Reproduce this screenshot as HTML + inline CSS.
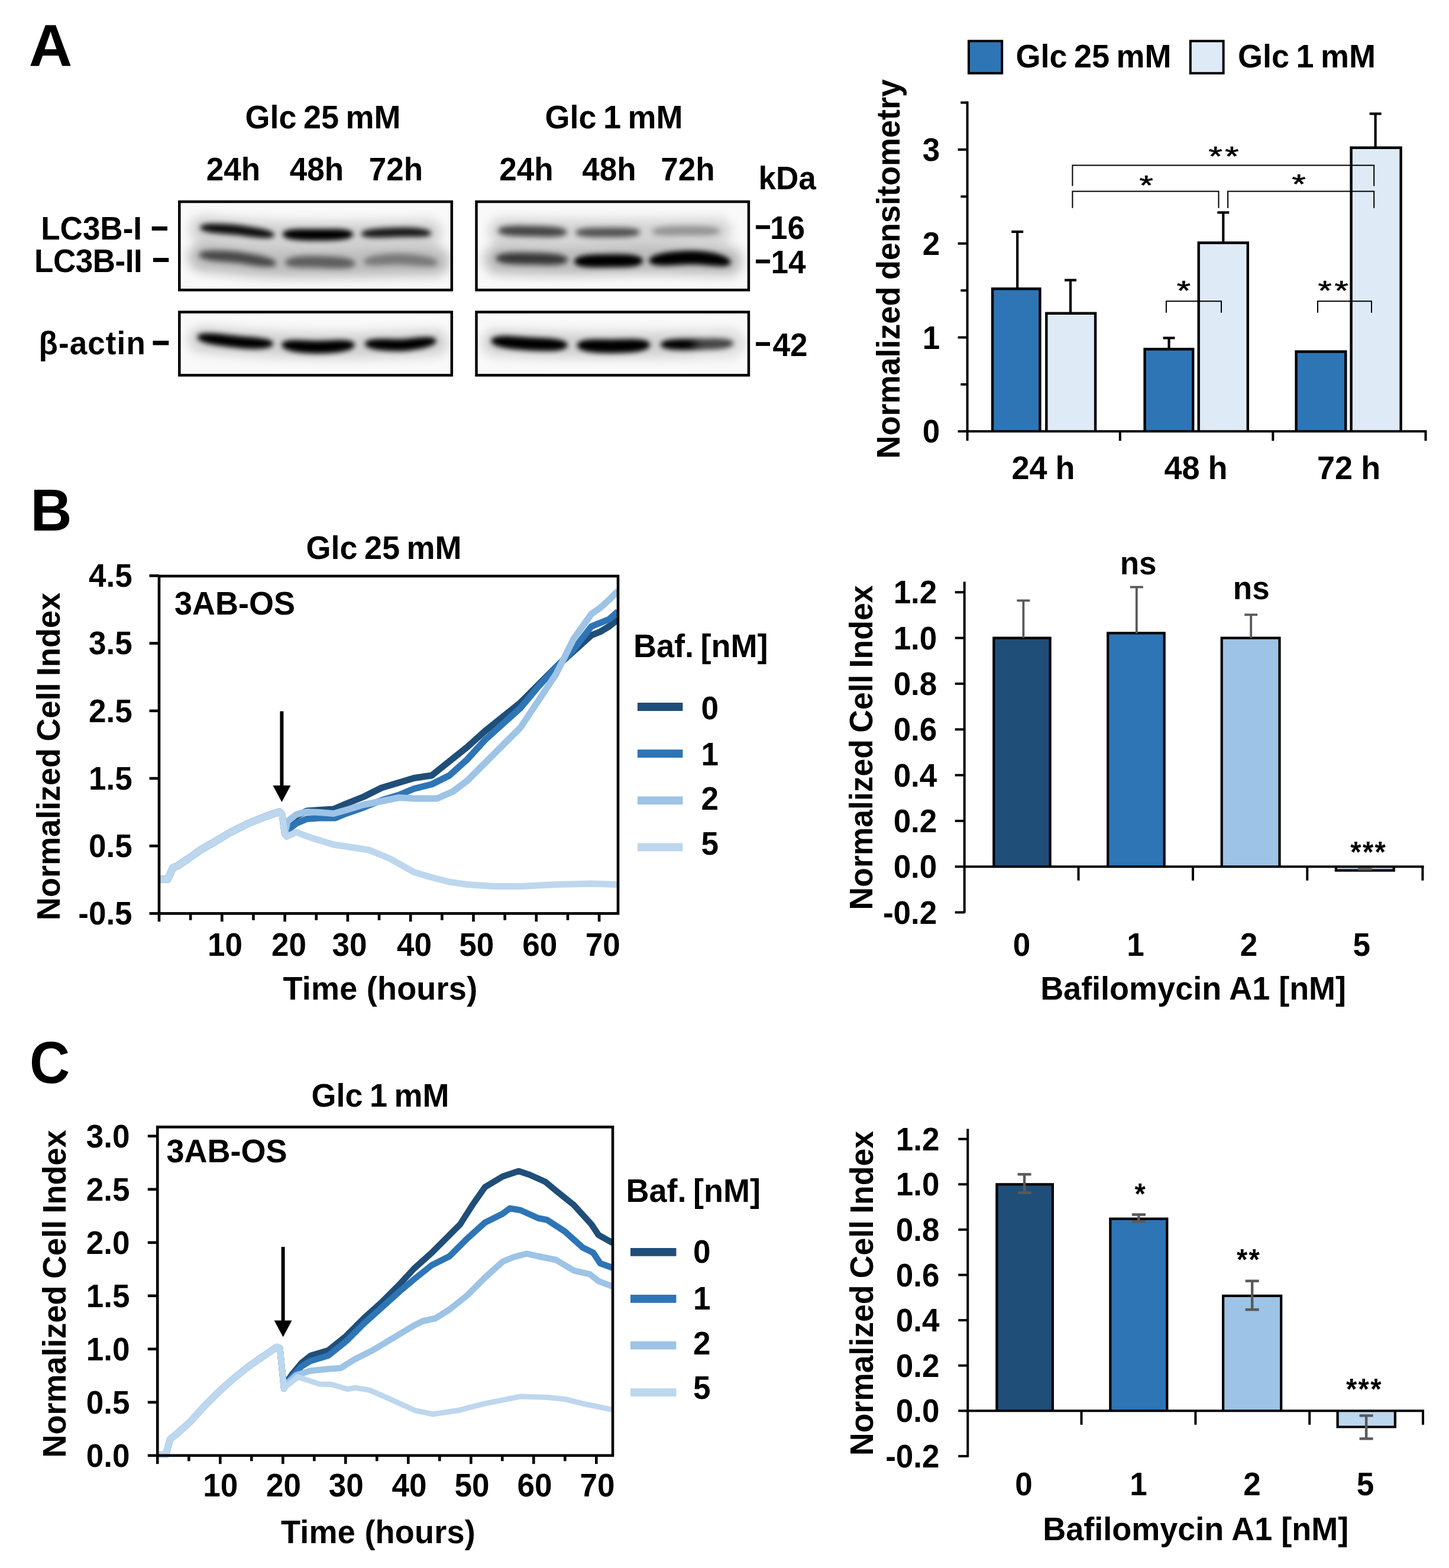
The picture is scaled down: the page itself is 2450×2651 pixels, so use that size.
<!DOCTYPE html>
<html lang="en"><head><meta charset="utf-8"><title>Figure</title>
<style>html,body{margin:0;padding:0;background:#fff}svg{display:block}text{font-family:"Liberation Sans",sans-serif;font-weight:bold}</style>
</head><body>
<svg width="2450" height="2651" viewBox="0 0 2450 2651">
<defs>
<filter id="b3" filterUnits="userSpaceOnUse" x="280" y="320" width="1010" height="340"><feGaussianBlur stdDeviation="4.2"/></filter>
<filter id="b4" filterUnits="userSpaceOnUse" x="280" y="320" width="1010" height="340"><feGaussianBlur stdDeviation="3.6"/></filter>
<filter id="b5" filterUnits="userSpaceOnUse" x="280" y="320" width="1010" height="340"><feGaussianBlur stdDeviation="5"/></filter>
<filter id="bs" filterUnits="userSpaceOnUse" x="280" y="320" width="1010" height="340"><feGaussianBlur stdDeviation="3.2"/><feComponentTransfer><feFuncA type="linear" slope="2"/></feComponentTransfer></filter>
<filter id="bs4" filterUnits="userSpaceOnUse" x="280" y="320" width="1010" height="340"><feGaussianBlur stdDeviation="4.2"/><feComponentTransfer><feFuncA type="linear" slope="2"/></feComponentTransfer></filter>
<filter id="b8" filterUnits="userSpaceOnUse" x="280" y="320" width="1010" height="340"><feGaussianBlur stdDeviation="9"/></filter>
<clipPath id="cA1"><rect x="303" y="340.7" width="461" height="149"/></clipPath>
<clipPath id="cA2"><rect x="303" y="527.4" width="461" height="107"/></clipPath>
<clipPath id="cA3"><rect x="805.3" y="340.7" width="461" height="149"/></clipPath>
<clipPath id="cA4"><rect x="805.3" y="527.4" width="461" height="107"/></clipPath>
<clipPath id="cB"><rect x="266" y="960" width="781" height="590"/></clipPath>
<clipPath id="cC"><rect x="264" y="1890" width="774" height="575"/></clipPath>
</defs>
<rect width="2450" height="2651" fill="#fff"/>
<text transform="translate(48.80,111.90) scale(1.05,1.04)" font-size="97">A</text>
<text transform="translate(546.00,217.00) scale(1,1.04)" font-size="54" text-anchor="middle" word-spacing="-3.53">Glc 25 mM</text>
<text transform="translate(1038.00,217.00) scale(1,1.04)" font-size="54" text-anchor="middle" word-spacing="-3.53">Glc 1 mM</text>
<text transform="translate(394.50,305.20) scale(1,1.04)" font-size="53" text-anchor="middle">24h</text>
<text transform="translate(535.50,305.20) scale(1,1.04)" font-size="53" text-anchor="middle">48h</text>
<text transform="translate(669.50,305.20) scale(1,1.04)" font-size="53" text-anchor="middle">72h</text>
<text transform="translate(890.00,305.20) scale(1,1.04)" font-size="53" text-anchor="middle">24h</text>
<text transform="translate(1030.00,305.20) scale(1,1.04)" font-size="53" text-anchor="middle">48h</text>
<text transform="translate(1163.00,305.20) scale(1,1.04)" font-size="53" text-anchor="middle">72h</text>
<text transform="translate(240.00,405.30) scale(1,1.04)" font-size="53" text-anchor="end">LC3B-I</text>
<text transform="translate(240.30,459.80) scale(1,1.04)" font-size="53" text-anchor="end" letter-spacing="-0.45">LC3B-II</text>
<text transform="translate(65.50,598.60) scale(1,1.04)" font-size="53" letter-spacing="1.1">β-actin</text>
<line x1="256.70" y1="386.30" x2="283.00" y2="386.30" stroke="#000" stroke-width="7"/>
<line x1="259.00" y1="439.50" x2="285.30" y2="439.50" stroke="#000" stroke-width="7"/>
<line x1="258.50" y1="579.80" x2="285.30" y2="579.80" stroke="#000" stroke-width="7.5"/>
<text transform="translate(1282.50,319.80) scale(1,1.04)" font-size="53">kDa</text>
<line x1="1278.00" y1="384.00" x2="1302.00" y2="384.00" stroke="#000" stroke-width="6.5"/>
<text transform="translate(1302.00,403.60) scale(1,1.04)" font-size="53">16</text>
<line x1="1278.00" y1="442.00" x2="1302.00" y2="442.00" stroke="#000" stroke-width="6.5"/>
<text transform="translate(1303.50,461.80) scale(1,1.04)" font-size="53">14</text>
<line x1="1278.00" y1="581.60" x2="1302.00" y2="581.60" stroke="#000" stroke-width="6.5"/>
<text transform="translate(1306.50,601.60) scale(1,1.04)" font-size="53">42</text>
<g clip-path="url(#cA1)">
<rect x="303.30" y="341.00" width="460.50" height="149.30" fill="#f9f9f9" stroke="none" stroke-width="0"/>
<path d="M343.0,387.0 C362.5,388.3 417.7,393.4 459.7,395.0 C501.7,396.5 550.8,396.5 595.0,396.3 C639.2,396.1 703.2,394.1 724.9,393.6" fill="none" stroke="#000" stroke-opacity="0.16" stroke-width="44" stroke-linecap="round" stroke-linejoin="round" filter="url(#b8)"/>
<path d="M343.0,434.7 C362.5,436.3 417.7,442.5 459.7,444.0 C501.7,445.6 549.0,444.5 595.0,444.0 C640.9,443.6 712.1,441.8 735.5,441.4" fill="none" stroke="#000" stroke-opacity="0.24" stroke-width="50" stroke-linecap="round" stroke-linejoin="round" filter="url(#b8)"/>
<path d="M337.7,384.6 L340.4,381.4 L343.8,380.1 L347.8,379.2 L352.3,378.6 L357.1,378.3 L362.3,378.2 L367.6,378.2 L372.9,378.4 L378.2,378.6 L383.2,378.9 L388.0,379.2 L392.3,379.5 L396.1,379.8 L399.4,380.1 L402.4,380.5 L405.1,380.8 L407.7,381.1 L410.0,381.4 L412.3,381.7 L414.4,382.1 L416.5,382.4 L418.6,382.7 L420.8,383.1 L423.0,383.5 L425.4,383.8 L427.9,384.2 L430.6,384.7 L433.6,385.1 L436.7,385.7 L439.9,386.3 L443.2,387.0 L446.4,387.7 L449.6,388.6 L452.7,389.5 L455.6,390.6 L458.2,391.7 L460.6,393.0 L462.6,394.5 L464.2,397.4 L464.2,397.4 L462.6,399.8 L460.6,400.8 L458.2,401.4 L455.6,401.9 L452.7,402.2 L449.6,402.3 L446.4,402.3 L443.2,402.2 L439.9,402.0 L436.7,401.8 L433.6,401.5 L430.6,401.2 L427.9,400.9 L425.4,400.6 L423.0,400.3 L420.8,400.0 L418.6,399.7 L416.5,399.4 L414.4,399.1 L412.3,398.7 L410.0,398.4 L407.7,398.1 L405.1,397.8 L402.4,397.5 L399.4,397.1 L396.1,396.8 L392.3,396.5 L388.0,396.2 L383.2,395.8 L378.2,395.5 L372.9,395.0 L367.6,394.5 L362.3,393.9 L357.1,393.2 L352.3,392.3 L347.8,391.2 L343.8,389.9 L340.4,388.2 L337.7,384.6Z" fill="#000" fill-opacity="0.93" filter="url(#b3)"/>
<path d="M477.5,396.0 L479.1,392.9 L481.0,391.6 L483.1,390.6 L485.5,389.8 L488.1,389.1 L490.8,388.6 L493.7,388.2 L496.8,387.8 L500.0,387.6 L503.2,387.4 L506.6,387.3 L510.0,387.2 L513.4,387.2 L516.9,387.2 L520.3,387.2 L523.7,387.3 L527.1,387.3 L530.4,387.3 L533.6,387.3 L536.6,387.3 L539.7,387.3 L542.9,387.3 L546.3,387.3 L549.7,387.3 L553.2,387.2 L556.7,387.2 L560.3,387.2 L563.8,387.2 L567.3,387.2 L570.8,387.3 L574.2,387.5 L577.5,387.7 L580.7,388.1 L583.7,388.5 L586.6,389.0 L589.3,389.7 L591.7,390.5 L594.0,391.5 L595.9,392.9 L597.6,396.0 L597.6,396.0 L595.9,399.3 L594.0,400.7 L591.7,401.8 L589.3,402.7 L586.6,403.5 L583.7,404.2 L580.7,404.8 L577.5,405.2 L574.2,405.6 L570.8,405.9 L567.3,406.1 L563.8,406.3 L560.3,406.5 L556.7,406.6 L553.2,406.7 L549.7,406.7 L546.3,406.8 L542.9,406.8 L539.7,406.8 L536.6,406.8 L533.6,406.8 L530.4,406.8 L527.1,406.8 L523.7,406.7 L520.3,406.7 L516.9,406.6 L513.4,406.5 L510.0,406.3 L506.6,406.1 L503.2,405.8 L500.0,405.5 L496.8,405.1 L493.7,404.7 L490.8,404.1 L488.1,403.4 L485.5,402.6 L483.1,401.7 L481.0,400.6 L479.1,399.2 L477.5,396.0Z" fill="#000" fill-opacity="1.0" filter="url(#b3)"/>
<path d="M610.1,395.5 L612.4,392.3 L615.3,390.8 L618.8,389.6 L622.7,388.6 L626.9,387.8 L631.4,387.2 L636.0,386.6 L640.6,386.2 L645.3,385.9 L649.7,385.6 L653.9,385.4 L657.8,385.2 L661.3,385.1 L664.3,385.0 L667.2,384.9 L669.8,384.8 L672.3,384.7 L674.7,384.7 L677.0,384.6 L679.2,384.6 L681.4,384.5 L683.6,384.5 L685.8,384.5 L688.1,384.6 L690.5,384.6 L693.1,384.7 L695.8,384.8 L698.8,385.0 L701.9,385.2 L705.1,385.5 L708.4,385.9 L711.6,386.4 L714.8,387.0 L717.9,387.7 L720.8,388.5 L723.4,389.4 L725.8,390.5 L727.8,391.8 L729.4,394.4 L729.4,394.4 L727.8,396.9 L725.8,398.0 L723.4,398.8 L720.8,399.4 L717.9,399.8 L714.8,400.1 L711.6,400.3 L708.4,400.5 L705.1,400.5 L701.9,400.5 L698.8,400.5 L695.8,400.5 L693.1,400.5 L690.5,400.5 L688.1,400.5 L685.8,400.5 L683.6,400.5 L681.4,400.5 L679.2,400.6 L677.0,400.6 L674.7,400.7 L672.3,400.7 L669.8,400.8 L667.2,400.9 L664.3,401.0 L661.3,401.1 L657.8,401.2 L653.9,401.4 L649.7,401.5 L645.3,401.7 L640.6,401.8 L636.0,401.8 L631.4,401.7 L626.9,401.5 L622.7,401.1 L618.8,400.5 L615.3,399.7 L612.4,398.4 L610.1,395.5Z" fill="#000" fill-opacity="0.88" filter="url(#b3)"/>
<path d="M335.9,430.8 L338.6,427.2 L342.1,425.7 L346.2,424.7 L350.9,424.0 L355.9,423.6 L361.3,423.4 L366.7,423.4 L372.2,423.5 L377.7,423.7 L382.9,424.0 L387.8,424.3 L392.2,424.7 L396.1,425.0 L399.4,425.3 L402.5,425.6 L405.2,426.0 L407.7,426.3 L410.0,426.7 L412.2,427.0 L414.3,427.4 L416.4,427.8 L418.5,428.2 L420.6,428.6 L422.9,429.0 L425.3,429.4 L427.9,429.9 L430.8,430.4 L433.9,431.0 L437.3,431.7 L440.8,432.4 L444.3,433.3 L447.9,434.2 L451.4,435.2 L454.7,436.4 L457.9,437.6 L460.8,439.0 L463.4,440.5 L465.6,442.3 L467.4,445.6 L467.4,445.6 L465.6,448.4 L463.4,449.4 L460.8,450.1 L457.9,450.5 L454.7,450.8 L451.4,450.8 L447.9,450.7 L444.3,450.5 L440.8,450.2 L437.3,449.8 L433.9,449.4 L430.8,449.0 L427.9,448.6 L425.3,448.3 L422.9,447.9 L420.6,447.5 L418.5,447.1 L416.4,446.7 L414.3,446.4 L412.2,446.0 L410.0,445.7 L407.7,445.3 L405.2,445.0 L402.5,444.6 L399.4,444.3 L396.1,444.0 L392.2,443.6 L387.8,443.3 L382.9,442.9 L377.7,442.6 L372.2,442.1 L366.7,441.6 L361.3,441.0 L355.9,440.2 L350.9,439.2 L346.2,438.0 L342.1,436.6 L338.6,434.7 L335.9,430.8Z" fill="#000" fill-opacity="0.62" filter="url(#b5)"/>
<path d="M481.7,443.8 L483.0,440.9 L484.4,439.6 L486.0,438.5 L487.7,437.6 L489.6,436.9 L491.6,436.2 L493.7,435.5 L495.9,435.0 L498.2,434.5 L500.7,434.1 L503.2,433.7 L505.8,433.4 L508.5,433.1 L511.2,432.9 L514.0,432.7 L516.9,432.6 L519.8,432.5 L522.7,432.4 L525.7,432.4 L528.7,432.4 L531.8,432.5 L535.2,432.6 L538.8,432.7 L542.7,432.8 L546.7,433.0 L550.8,433.2 L555.0,433.4 L559.3,433.6 L563.5,433.8 L567.8,434.1 L572.0,434.5 L576.1,434.9 L580.1,435.5 L583.9,436.1 L587.5,436.9 L590.8,437.8 L593.9,438.9 L596.6,440.3 L599.0,441.9 L601.1,445.6 L601.1,445.6 L599.0,449.1 L596.6,450.6 L593.9,451.6 L590.8,452.4 L587.5,453.0 L583.9,453.4 L580.1,453.6 L576.1,453.8 L572.0,453.8 L567.8,453.8 L563.5,453.6 L559.3,453.5 L555.0,453.3 L550.8,453.2 L546.7,453.0 L542.7,452.8 L538.8,452.7 L535.2,452.6 L531.8,452.5 L528.7,452.4 L525.7,452.4 L522.7,452.3 L519.8,452.3 L516.9,452.3 L514.0,452.3 L511.2,452.2 L508.5,452.1 L505.8,452.1 L503.2,451.9 L500.7,451.7 L498.2,451.5 L495.9,451.2 L493.7,450.9 L491.6,450.5 L489.6,450.0 L487.7,449.4 L486.0,448.7 L484.4,447.8 L483.0,446.6 L481.7,443.8Z" fill="#000" fill-opacity="0.5" filter="url(#b5)"/>
<path d="M614.3,442.4 L616.0,439.3 L617.9,437.8 L620.0,436.6 L622.4,435.5 L625.0,434.5 L627.8,433.6 L630.7,432.8 L633.8,432.1 L637.0,431.4 L640.3,430.9 L643.7,430.4 L647.1,429.9 L650.6,429.5 L654.1,429.2 L657.6,428.9 L661.1,428.7 L664.6,428.6 L668.0,428.5 L671.3,428.4 L674.5,428.4 L677.8,428.5 L681.2,428.7 L684.7,428.9 L688.4,429.1 L692.2,429.4 L696.0,429.8 L699.8,430.2 L703.7,430.6 L707.5,431.2 L711.3,431.7 L715.0,432.4 L718.6,433.1 L722.1,433.9 L725.4,434.8 L728.5,435.7 L731.5,436.8 L734.2,438.0 L736.6,439.3 L738.7,440.9 L740.5,444.3 L740.5,444.3 L738.7,447.3 L736.6,448.4 L734.2,449.2 L731.5,449.7 L728.5,450.1 L725.4,450.3 L722.1,450.3 L718.6,450.3 L715.0,450.1 L711.3,449.9 L707.5,449.7 L703.7,449.4 L699.8,449.0 L696.0,448.7 L692.2,448.4 L688.4,448.1 L684.7,447.9 L681.2,447.7 L677.8,447.5 L674.5,447.4 L671.3,447.4 L668.0,447.5 L664.6,447.6 L661.1,447.7 L657.6,447.9 L654.1,448.0 L650.6,448.2 L647.1,448.4 L643.7,448.6 L640.3,448.7 L637.0,448.8 L633.8,448.8 L630.7,448.7 L627.8,448.5 L625.0,448.2 L622.4,447.8 L620.0,447.2 L617.9,446.4 L616.0,445.3 L614.3,442.4Z" fill="#000" fill-opacity="0.36" filter="url(#b5)"/>
</g>
<rect x="303.30" y="341.00" width="460.50" height="149.30" fill="none" stroke="#000" stroke-width="4.5"/>
<g clip-path="url(#cA2)">
<rect x="303.30" y="527.60" width="460.50" height="106.80" fill="#f9f9f9" stroke="none" stroke-width="0"/>
<path d="M340.4,574.0 C360.3,575.3 417.3,580.2 459.7,581.9 C502.1,583.7 549.0,585.0 595.0,584.6 C640.9,584.1 712.1,580.2 735.5,579.3" fill="none" stroke="#000" stroke-opacity="0.16" stroke-width="44" stroke-linecap="round" stroke-linejoin="round" filter="url(#b8)"/>
<path d="M333.2,569.7 L336.1,566.0 L339.7,564.6 L344.1,563.9 L348.9,563.5 L354.2,563.4 L359.8,563.7 L365.5,564.1 L371.3,564.6 L377.0,565.2 L382.4,565.8 L387.5,566.4 L392.1,567.0 L396.1,567.4 L399.5,567.8 L402.7,568.1 L405.5,568.4 L408.1,568.7 L410.5,568.9 L412.7,569.1 L414.8,569.3 L416.9,569.4 L418.9,569.6 L421.0,569.8 L423.2,569.9 L425.5,570.1 L427.9,570.3 L430.5,570.5 L433.4,570.8 L436.3,571.1 L439.4,571.5 L442.4,571.9 L445.5,572.4 L448.5,573.0 L451.3,573.7 L454.0,574.5 L456.5,575.5 L458.7,576.6 L460.6,578.1 L462.1,581.1 L462.1,581.1 L460.6,584.1 L458.7,585.5 L456.5,586.5 L454.0,587.4 L451.3,588.1 L448.5,588.6 L445.5,589.1 L442.4,589.4 L439.4,589.6 L436.3,589.8 L433.4,589.8 L430.5,589.9 L427.9,589.8 L425.5,589.8 L423.2,589.7 L421.0,589.6 L418.9,589.5 L416.9,589.4 L414.8,589.2 L412.7,589.1 L410.5,588.9 L408.1,588.7 L405.5,588.4 L402.7,588.1 L399.5,587.8 L396.1,587.4 L392.1,587.0 L387.5,586.4 L382.4,585.8 L377.0,585.1 L371.3,584.3 L365.5,583.4 L359.8,582.4 L354.2,581.3 L348.9,579.9 L344.1,578.3 L339.7,576.4 L336.1,574.2 L333.2,569.7Z" fill="#000" fill-opacity="1.0" filter="url(#b3)"/>
<path d="M475.9,583.0 L477.6,579.7 L479.5,578.3 L481.7,577.3 L484.1,576.6 L486.7,576.0 L489.6,575.6 L492.6,575.3 L495.7,575.1 L498.9,575.1 L502.3,575.1 L505.7,575.1 L509.2,575.3 L512.8,575.4 L516.3,575.6 L519.8,575.7 L523.3,575.9 L526.8,576.0 L530.2,576.1 L533.5,576.2 L536.6,576.2 L539.8,576.2 L543.1,576.1 L546.6,576.0 L550.1,575.9 L553.8,575.7 L557.4,575.5 L561.1,575.4 L564.8,575.2 L568.5,575.1 L572.1,575.0 L575.6,575.0 L579.1,575.0 L582.4,575.2 L585.6,575.4 L588.5,575.9 L591.3,576.4 L593.9,577.2 L596.2,578.2 L598.3,579.6 L600.0,583.0 L600.0,583.0 L598.3,586.6 L596.2,588.3 L593.9,589.7 L591.3,590.9 L588.5,591.9 L585.6,592.8 L582.4,593.6 L579.1,594.3 L575.6,594.9 L572.1,595.5 L568.5,595.9 L564.8,596.3 L561.1,596.6 L557.4,596.9 L553.8,597.2 L550.1,597.4 L546.6,597.5 L543.1,597.6 L539.8,597.7 L536.6,597.7 L533.5,597.7 L530.2,597.6 L526.8,597.5 L523.3,597.3 L519.8,597.1 L516.3,596.9 L512.8,596.6 L509.2,596.3 L505.7,595.8 L502.3,595.4 L498.9,594.8 L495.7,594.2 L492.6,593.5 L489.6,592.7 L486.7,591.8 L484.1,590.7 L481.7,589.6 L479.5,588.2 L477.6,586.6 L475.9,583.0Z" fill="#000" fill-opacity="1.0" filter="url(#b3)"/>
<path d="M616.4,581.1 L619.1,577.2 L622.5,575.6 L626.5,574.4 L631.0,573.7 L635.9,573.2 L641.0,573.0 L646.3,573.0 L651.6,573.0 L656.9,573.1 L661.9,573.3 L666.6,573.4 L670.8,573.5 L674.5,573.5 L677.7,573.5 L680.5,573.4 L683.1,573.3 L685.5,573.1 L687.6,573.0 L689.6,572.8 L691.5,572.5 L693.4,572.3 L695.3,572.0 L697.2,571.8 L699.2,571.5 L701.4,571.3 L703.7,571.0 L706.2,570.8 L709.0,570.6 L711.9,570.4 L715.0,570.2 L718.0,570.0 L721.1,570.0 L724.1,570.1 L727.0,570.3 L729.7,570.6 L732.2,571.2 L734.5,572.0 L736.4,573.2 L737.9,576.1 L737.9,576.1 L736.4,579.4 L734.5,581.1 L732.2,582.6 L729.7,583.9 L727.0,585.1 L724.1,586.1 L721.1,587.0 L718.0,587.9 L715.0,588.6 L711.9,589.3 L709.0,589.8 L706.2,590.3 L703.7,590.7 L701.4,591.0 L699.2,591.3 L697.2,591.7 L695.3,592.0 L693.4,592.2 L691.5,592.5 L689.6,592.7 L687.6,593.0 L685.5,593.1 L683.1,593.3 L680.5,593.4 L677.7,593.5 L674.5,593.5 L670.8,593.5 L666.6,593.4 L661.9,593.2 L656.9,593.0 L651.6,592.7 L646.3,592.3 L641.0,591.7 L635.9,591.0 L631.0,590.0 L626.5,588.8 L622.5,587.3 L619.1,585.3 L616.4,581.1Z" fill="#000" fill-opacity="1.0" filter="url(#b3)"/>
</g>
<rect x="303.30" y="527.60" width="460.50" height="106.80" fill="none" stroke="#000" stroke-width="4.5"/>
<g clip-path="url(#cA3)">
<rect x="805.50" y="341.00" width="460.40" height="149.30" fill="#f9f9f9" stroke="none" stroke-width="0"/>
<path d="M848.3,391.0 C866.9,391.2 918.6,392.1 959.7,392.3 C1000.8,392.5 1052.5,392.5 1095.0,392.3 C1137.4,392.1 1194.4,391.2 1214.3,391.0" fill="none" stroke="#000" stroke-opacity="0.15" stroke-width="44" stroke-linecap="round" stroke-linejoin="round" filter="url(#b8)"/>
<path d="M843.0,438.7 C862.5,439.2 917.7,441.4 959.7,441.4 C1001.7,441.4 1049.9,438.7 1095.0,438.7 C1140.0,438.7 1207.7,440.9 1230.2,441.4" fill="none" stroke="#000" stroke-opacity="0.24" stroke-width="50" stroke-linecap="round" stroke-linejoin="round" filter="url(#b8)"/>
<path d="M841.7,389.9 L843.4,387.0 L845.3,385.8 L847.4,384.8 L849.9,384.0 L852.5,383.4 L855.3,382.9 L858.3,382.5 L861.4,382.2 L864.6,381.9 L867.9,381.8 L871.3,381.7 L874.8,381.6 L878.3,381.6 L881.8,381.6 L885.2,381.7 L888.6,381.7 L892.0,381.8 L895.2,381.9 L898.4,381.9 L901.4,382.0 L904.4,382.1 L907.5,382.1 L910.7,382.2 L913.9,382.3 L917.3,382.4 L920.6,382.5 L924.0,382.7 L927.3,382.9 L930.6,383.1 L933.9,383.4 L937.1,383.7 L940.1,384.1 L943.1,384.5 L946.0,385.0 L948.6,385.7 L951.1,386.4 L953.4,387.3 L955.5,388.3 L957.3,389.6 L958.9,392.6 L958.9,392.6 L957.3,395.4 L955.5,396.6 L953.4,397.6 L951.1,398.3 L948.6,398.9 L946.0,399.4 L943.1,399.7 L940.1,400.0 L937.1,400.2 L933.9,400.4 L930.6,400.4 L927.3,400.5 L924.0,400.5 L920.6,400.4 L917.3,400.4 L913.9,400.3 L910.7,400.2 L907.5,400.1 L904.4,400.1 L901.4,400.0 L898.4,399.9 L895.2,399.9 L892.0,399.8 L888.6,399.7 L885.2,399.6 L881.8,399.6 L878.3,399.4 L874.8,399.3 L871.3,399.1 L867.9,398.9 L864.6,398.7 L861.4,398.3 L858.3,397.9 L855.3,397.4 L852.5,396.8 L849.9,396.1 L847.4,395.3 L845.3,394.2 L843.4,392.9 L841.7,389.9Z" fill="#000" fill-opacity="0.68" filter="url(#b5)"/>
<path d="M972.7,393.1 L974.2,390.5 L976.0,389.3 L978.1,388.5 L980.4,387.7 L982.8,387.2 L985.5,386.7 L988.2,386.3 L991.2,386.0 L994.2,385.7 L997.3,385.5 L1000.5,385.4 L1003.7,385.3 L1007.0,385.2 L1010.3,385.2 L1013.5,385.2 L1016.7,385.2 L1019.9,385.1 L1022.9,385.1 L1025.8,385.1 L1028.7,385.1 L1031.5,385.1 L1034.4,385.1 L1037.4,385.1 L1040.4,385.0 L1043.5,385.0 L1046.7,385.0 L1049.8,385.1 L1052.9,385.1 L1056.0,385.2 L1059.1,385.3 L1062.1,385.5 L1064.9,385.7 L1067.7,386.0 L1070.4,386.4 L1072.9,386.8 L1075.2,387.4 L1077.4,388.1 L1079.3,388.9 L1081.0,390.0 L1082.5,392.6 L1082.5,392.6 L1081.0,395.2 L1079.3,396.3 L1077.4,397.2 L1075.2,397.9 L1072.9,398.6 L1070.4,399.1 L1067.7,399.5 L1064.9,399.9 L1062.1,400.2 L1059.1,400.4 L1056.0,400.6 L1052.9,400.7 L1049.8,400.8 L1046.7,400.9 L1043.5,401.0 L1040.4,401.0 L1037.4,401.1 L1034.4,401.1 L1031.5,401.1 L1028.7,401.1 L1025.8,401.1 L1022.9,401.1 L1019.9,401.1 L1016.7,401.1 L1013.5,401.1 L1010.3,401.1 L1007.0,401.1 L1003.7,401.0 L1000.5,400.9 L997.3,400.8 L994.2,400.6 L991.2,400.3 L988.2,400.0 L985.5,399.6 L982.8,399.1 L980.4,398.5 L978.1,397.8 L976.0,396.9 L974.2,395.7 L972.7,393.1Z" fill="#000" fill-opacity="0.62" filter="url(#b5)"/>
<path d="M1101.6,391.5 L1103.2,388.8 L1105.2,387.6 L1107.3,386.7 L1109.8,385.9 L1112.4,385.2 L1115.2,384.6 L1118.2,384.1 L1121.3,383.7 L1124.6,383.3 L1127.9,383.0 L1131.3,382.8 L1134.8,382.6 L1138.2,382.4 L1141.7,382.3 L1145.2,382.2 L1148.6,382.1 L1151.9,382.0 L1155.1,382.0 L1158.3,382.0 L1161.3,381.9 L1164.2,381.9 L1167.3,381.9 L1170.4,382.0 L1173.7,382.0 L1176.9,382.1 L1180.2,382.2 L1183.5,382.3 L1186.8,382.4 L1190.0,382.6 L1193.2,382.8 L1196.3,383.1 L1199.4,383.4 L1202.3,383.9 L1205.0,384.3 L1207.7,384.9 L1210.1,385.6 L1212.4,386.3 L1214.4,387.2 L1216.2,388.4 L1217.7,391.0 L1217.7,391.0 L1216.2,393.5 L1214.4,394.6 L1212.4,395.4 L1210.1,396.1 L1207.7,396.6 L1205.0,397.0 L1202.3,397.3 L1199.4,397.6 L1196.3,397.8 L1193.2,397.9 L1190.0,398.0 L1186.8,398.0 L1183.5,398.0 L1180.2,398.0 L1176.9,398.0 L1173.7,398.0 L1170.4,398.0 L1167.3,397.9 L1164.2,397.9 L1161.3,397.9 L1158.3,398.0 L1155.1,398.0 L1151.9,398.0 L1148.6,398.1 L1145.2,398.2 L1141.7,398.2 L1138.2,398.3 L1134.8,398.3 L1131.3,398.3 L1127.9,398.3 L1124.6,398.2 L1121.3,398.1 L1118.2,397.9 L1115.2,397.6 L1112.4,397.2 L1109.8,396.7 L1107.3,396.0 L1105.2,395.2 L1103.2,394.1 L1101.6,391.5Z" fill="#000" fill-opacity="0.3" filter="url(#b5)"/>
<path d="M838.0,436.6 L839.7,433.3 L841.8,431.9 L844.1,430.8 L846.7,429.9 L849.5,429.2 L852.5,428.6 L855.7,428.2 L859.0,427.8 L862.4,427.5 L866.0,427.3 L869.6,427.2 L873.3,427.1 L877.0,427.1 L880.7,427.1 L884.3,427.1 L888.0,427.2 L891.5,427.2 L894.9,427.3 L898.2,427.3 L901.4,427.4 L904.5,427.5 L907.7,427.6 L911.0,427.6 L914.4,427.8 L917.8,427.9 L921.3,428.0 L924.7,428.2 L928.2,428.4 L931.6,428.7 L934.9,429.0 L938.2,429.3 L941.3,429.8 L944.4,430.3 L947.3,430.9 L950.0,431.6 L952.5,432.4 L954.9,433.4 L957.0,434.6 L958.9,436.0 L960.5,439.3 L960.5,439.3 L958.9,442.4 L957.0,443.7 L954.9,444.7 L952.5,445.5 L950.0,446.2 L947.3,446.7 L944.4,447.1 L941.3,447.4 L938.2,447.6 L934.9,447.8 L931.6,447.9 L928.2,447.9 L924.7,447.9 L921.3,447.9 L917.8,447.8 L914.4,447.7 L911.0,447.6 L907.7,447.5 L904.5,447.5 L901.4,447.4 L898.2,447.3 L894.9,447.3 L891.5,447.2 L888.0,447.2 L884.3,447.1 L880.7,447.0 L877.0,446.9 L873.3,446.8 L869.6,446.6 L866.0,446.4 L862.4,446.2 L859.0,445.8 L855.7,445.4 L852.5,444.9 L849.5,444.2 L846.7,443.5 L844.1,442.5 L841.8,441.4 L839.7,439.9 L838.0,436.6Z" fill="#000" fill-opacity="0.7" filter="url(#b5)"/>
<path d="M970.6,441.9 L972.2,438.3 L974.0,436.7 L976.1,435.5 L978.5,434.4 L981.0,433.6 L983.7,432.8 L986.6,432.2 L989.6,431.7 L992.7,431.3 L996.0,431.0 L999.3,430.7 L1002.6,430.5 L1006.0,430.3 L1009.4,430.2 L1012.7,430.1 L1016.1,430.0 L1019.4,430.0 L1022.6,429.9 L1025.7,429.9 L1028.7,429.8 L1031.7,429.8 L1034.8,429.8 L1038.0,429.8 L1041.3,429.8 L1044.7,429.8 L1048.1,429.8 L1051.5,429.9 L1054.9,430.0 L1058.3,430.1 L1061.6,430.3 L1064.9,430.6 L1068.0,431.0 L1071.1,431.4 L1074.0,432.0 L1076.7,432.7 L1079.3,433.5 L1081.6,434.5 L1083.8,435.7 L1085.7,437.3 L1087.3,440.8 L1087.3,440.8 L1085.7,444.4 L1083.8,446.0 L1081.6,447.2 L1079.3,448.2 L1076.7,449.0 L1074.0,449.6 L1071.1,450.2 L1068.0,450.6 L1064.9,451.0 L1061.6,451.2 L1058.3,451.4 L1054.9,451.6 L1051.5,451.6 L1048.1,451.7 L1044.7,451.7 L1041.3,451.8 L1038.0,451.8 L1034.8,451.8 L1031.7,451.8 L1028.7,451.8 L1025.7,451.9 L1022.6,451.9 L1019.4,452.0 L1016.1,452.0 L1012.7,452.0 L1009.4,452.0 L1006.0,452.0 L1002.6,452.0 L999.3,451.9 L996.0,451.8 L992.7,451.6 L989.6,451.3 L986.6,450.9 L983.7,450.4 L981.0,449.8 L978.5,449.0 L976.1,448.1 L974.0,447.0 L972.2,445.4 L970.6,441.9Z" fill="#000" fill-opacity="1.0" filter="url(#b3)"/>
<path d="M1096.8,440.6 L1099.7,435.8 L1103.5,433.4 L1107.8,431.5 L1112.8,429.9 L1118.1,428.6 L1123.8,427.5 L1129.6,426.6 L1135.5,425.9 L1141.3,425.3 L1146.9,424.9 L1152.2,424.5 L1157.0,424.2 L1161.3,424.0 L1165.0,423.9 L1168.5,423.9 L1171.7,423.9 L1174.7,424.0 L1177.5,424.1 L1180.2,424.2 L1182.8,424.4 L1185.3,424.6 L1187.8,424.8 L1190.4,425.1 L1192.9,425.4 L1195.6,425.8 L1198.4,426.2 L1201.3,426.6 L1204.5,427.2 L1207.8,427.9 L1211.1,428.7 L1214.4,429.6 L1217.8,430.7 L1221.0,431.8 L1224.1,433.1 L1227.0,434.5 L1229.7,436.1 L1232.1,437.8 L1234.1,439.7 L1235.8,443.5 L1235.8,443.5 L1234.1,446.7 L1232.1,447.9 L1229.7,448.8 L1227.0,449.4 L1224.1,449.7 L1221.0,449.9 L1217.8,449.9 L1214.4,449.8 L1211.1,449.6 L1207.8,449.4 L1204.5,449.1 L1201.3,448.9 L1198.4,448.6 L1195.6,448.4 L1192.9,448.2 L1190.4,448.0 L1187.8,447.7 L1185.3,447.5 L1182.8,447.3 L1180.2,447.2 L1177.5,447.1 L1174.7,447.0 L1171.7,446.9 L1168.5,446.9 L1165.0,446.9 L1161.3,447.0 L1157.0,447.2 L1152.2,447.5 L1146.9,447.8 L1141.3,448.2 L1135.5,448.5 L1129.6,448.7 L1123.8,448.9 L1118.1,448.8 L1112.8,448.4 L1107.8,447.7 L1103.5,446.6 L1099.7,444.9 L1096.8,440.6Z" fill="#000" fill-opacity="1.0" filter="url(#b3)"/>
</g>
<rect x="805.50" y="341.00" width="460.40" height="149.30" fill="none" stroke="#000" stroke-width="4.5"/>
<g clip-path="url(#cA4)">
<rect x="805.50" y="527.60" width="460.40" height="106.80" fill="#f9f9f9" stroke="none" stroke-width="0"/>
<path d="M837.7,579.3 C858.1,579.9 916.8,582.6 959.7,583.2 C1002.6,583.9 1049.0,583.7 1095.0,583.2 C1140.9,582.8 1212.1,581.0 1235.5,580.6" fill="none" stroke="#000" stroke-opacity="0.16" stroke-width="44" stroke-linecap="round" stroke-linejoin="round" filter="url(#b8)"/>
<path d="M830.0,576.1 L831.9,572.6 L834.0,571.2 L836.4,570.2 L839.1,569.5 L842.0,568.9 L845.1,568.5 L848.4,568.3 L851.8,568.1 L855.4,568.1 L859.1,568.1 L862.8,568.3 L866.6,568.4 L870.5,568.7 L874.3,568.9 L878.2,569.2 L881.9,569.5 L885.7,569.7 L889.3,570.0 L892.7,570.2 L896.1,570.4 L899.4,570.6 L902.8,570.7 L906.4,570.9 L910.0,571.1 L913.7,571.2 L917.4,571.4 L921.1,571.6 L924.9,571.8 L928.5,572.1 L932.2,572.4 L935.7,572.8 L939.1,573.2 L942.4,573.7 L945.6,574.4 L948.5,575.1 L951.3,576.0 L953.9,577.1 L956.2,578.3 L958.2,579.9 L960.0,583.5 L960.0,583.5 L958.2,587.0 L956.2,588.5 L953.9,589.6 L951.3,590.5 L948.5,591.3 L945.6,591.9 L942.4,592.4 L939.1,592.7 L935.7,593.0 L932.2,593.2 L928.5,593.3 L924.9,593.3 L921.1,593.3 L917.4,593.3 L913.7,593.2 L910.0,593.0 L906.4,592.9 L902.8,592.7 L899.4,592.6 L896.1,592.4 L892.7,592.2 L889.3,592.0 L885.7,591.7 L881.9,591.4 L878.2,591.1 L874.3,590.8 L870.5,590.4 L866.6,590.0 L862.8,589.6 L859.1,589.1 L855.4,588.5 L851.8,587.8 L848.4,587.1 L845.1,586.3 L842.0,585.3 L839.1,584.2 L836.4,583.0 L834.0,581.6 L831.9,579.8 L830.0,576.1Z" fill="#000" fill-opacity="1.0" filter="url(#b3)"/>
<path d="M975.4,583.8 L977.0,580.1 L979.0,578.6 L981.2,577.4 L983.7,576.5 L986.3,575.7 L989.2,575.1 L992.2,574.6 L995.4,574.3 L998.7,574.0 L1002.1,573.8 L1005.5,573.7 L1009.1,573.7 L1012.6,573.7 L1016.2,573.7 L1019.8,573.8 L1023.3,573.8 L1026.8,573.8 L1030.2,573.9 L1033.4,573.9 L1036.6,573.9 L1039.8,573.8 L1043.1,573.8 L1046.6,573.7 L1050.1,573.6 L1053.7,573.5 L1057.3,573.4 L1061.0,573.4 L1064.7,573.3 L1068.3,573.3 L1071.9,573.3 L1075.4,573.5 L1078.8,573.7 L1082.1,574.0 L1085.2,574.4 L1088.1,574.9 L1090.9,575.7 L1093.4,576.6 L1095.7,577.7 L1097.7,579.3 L1099.5,583.0 L1099.5,583.0 L1097.7,586.8 L1095.7,588.5 L1093.4,589.9 L1090.9,591.1 L1088.1,592.1 L1085.2,592.9 L1082.1,593.6 L1078.8,594.3 L1075.4,594.8 L1071.9,595.2 L1068.3,595.6 L1064.7,595.9 L1061.0,596.1 L1057.3,596.3 L1053.7,596.5 L1050.1,596.6 L1046.6,596.7 L1043.1,596.8 L1039.8,596.8 L1036.6,596.9 L1033.4,596.9 L1030.2,596.9 L1026.8,596.8 L1023.3,596.8 L1019.8,596.7 L1016.2,596.6 L1012.6,596.4 L1009.1,596.2 L1005.5,595.9 L1002.1,595.6 L998.7,595.2 L995.4,594.7 L992.2,594.1 L989.2,593.4 L986.3,592.6 L983.7,591.7 L981.2,590.5 L979.0,589.2 L977.0,587.5 L975.4,583.8Z" fill="#000" fill-opacity="1.0" filter="url(#b3)"/>
<path d="M1116.4,582.5 L1118.0,579.5 L1119.9,578.2 L1121.9,577.2 L1124.2,576.3 L1126.7,575.6 L1129.3,575.0 L1132.2,574.5 L1135.1,574.1 L1138.2,573.8 L1141.3,573.6 L1144.6,573.3 L1147.9,573.2 L1151.3,573.1 L1154.7,573.0 L1158.1,572.9 L1161.5,572.9 L1164.8,572.8 L1168.1,572.8 L1171.4,572.7 L1174.5,572.7 L1177.7,572.6 L1181.1,572.6 L1184.6,572.5 L1188.3,572.4 L1192.0,572.4 L1195.8,572.3 L1199.7,572.2 L1203.5,572.2 L1207.4,572.2 L1211.2,572.2 L1214.9,572.4 L1218.5,572.5 L1222.0,572.8 L1225.3,573.2 L1228.5,573.7 L1231.4,574.3 L1234.1,575.1 L1236.6,576.1 L1238.7,577.5 L1240.5,580.6 L1240.5,580.6 L1238.7,583.8 L1236.6,585.3 L1234.1,586.4 L1231.4,587.3 L1228.5,588.1 L1225.3,588.8 L1222.0,589.4 L1218.5,589.8 L1214.9,590.2 L1211.2,590.5 L1207.4,590.7 L1203.5,590.9 L1199.7,591.1 L1195.8,591.2 L1192.0,591.3 L1188.3,591.4 L1184.6,591.5 L1181.1,591.6 L1177.7,591.6 L1174.5,591.7 L1171.4,591.7 L1168.1,591.8 L1164.8,591.8 L1161.5,591.8 L1158.1,591.8 L1154.7,591.8 L1151.3,591.7 L1147.9,591.6 L1144.6,591.5 L1141.3,591.3 L1138.2,591.0 L1135.1,590.7 L1132.2,590.3 L1129.3,589.8 L1126.7,589.2 L1124.2,588.6 L1121.9,587.7 L1119.9,586.7 L1118.0,585.4 L1116.4,582.5Z" fill="#000" fill-opacity="1.0" filter="url(#b3)"/>
</g>
<rect x="805.50" y="527.60" width="460.40" height="106.80" fill="none" stroke="#000" stroke-width="4.5"/>
<g clip-path="url(#cA4)"><rect x="1175" y="560" width="80" height="50" fill="#f9f9f9" fill-opacity="0.28" filter="url(#b8)"/></g>
<rect x="1638.00" y="69.40" width="56.20" height="54.40" fill="#2e75b6" stroke="#000" stroke-width="4"/>
<text transform="translate(1717.50,114.40) scale(1,1.04)" font-size="54" word-spacing="-3.53">Glc 25 mM</text>
<rect x="2012.80" y="69.40" width="55.80" height="54.40" fill="#deebf7" stroke="#000" stroke-width="4"/>
<text transform="translate(2093.00,114.40) scale(1,1.04)" font-size="54" word-spacing="-3.53">Glc 1 mM</text>
<path d="M1678.10,729.30 L1678.10,488.20 L1758.40,488.20 L1758.40,729.30" fill="#2e75b6" stroke="#000" stroke-width="4.4" stroke-linejoin="miter"/>
<path d="M1769.30,729.30 L1769.30,529.80 L1852.10,529.80 L1852.10,729.30" fill="#deebf7" stroke="#000" stroke-width="4.4" stroke-linejoin="miter"/>
<path d="M1935.60,729.30 L1935.60,590.20 L2017.20,590.20 L2017.20,729.30" fill="#2e75b6" stroke="#000" stroke-width="4.4" stroke-linejoin="miter"/>
<path d="M2026.70,729.30 L2026.70,410.50 L2109.80,410.50 L2109.80,729.30" fill="#deebf7" stroke="#000" stroke-width="4.4" stroke-linejoin="miter"/>
<path d="M2191.60,729.30 L2191.60,594.50 L2275.30,594.50 L2275.30,729.30" fill="#2e75b6" stroke="#000" stroke-width="4.4" stroke-linejoin="miter"/>
<path d="M2284.60,729.30 L2284.60,249.80 L2368.60,249.80 L2368.60,729.30" fill="#deebf7" stroke="#000" stroke-width="4.4" stroke-linejoin="miter"/>
<line x1="1720.20" y1="391.80" x2="1720.20" y2="487.30" stroke="#000" stroke-width="4.2"/>
<line x1="1710.20" y1="391.80" x2="1730.20" y2="391.80" stroke="#000" stroke-width="4.2"/>
<line x1="1810.00" y1="473.60" x2="1810.00" y2="528.40" stroke="#000" stroke-width="4.2"/>
<line x1="1800.00" y1="473.60" x2="1820.00" y2="473.60" stroke="#000" stroke-width="4.2"/>
<line x1="1976.50" y1="571.40" x2="1976.50" y2="589.50" stroke="#000" stroke-width="4.2"/>
<line x1="1966.50" y1="571.40" x2="1986.50" y2="571.40" stroke="#000" stroke-width="4.2"/>
<line x1="2068.30" y1="359.30" x2="2068.30" y2="411.00" stroke="#000" stroke-width="4.2"/>
<line x1="2058.30" y1="359.30" x2="2078.30" y2="359.30" stroke="#000" stroke-width="4.2"/>
<line x1="2325.60" y1="192.30" x2="2325.60" y2="250.20" stroke="#000" stroke-width="4.2"/>
<line x1="2315.60" y1="192.30" x2="2335.60" y2="192.30" stroke="#000" stroke-width="4.2"/>
<line x1="1635.60" y1="171.40" x2="1635.60" y2="745.30" stroke="#000" stroke-width="4"/>
<line x1="1619.60" y1="729.30" x2="2412.30" y2="729.30" stroke="#000" stroke-width="4"/>
<line x1="1619.60" y1="570.50" x2="1635.60" y2="570.50" stroke="#000" stroke-width="4"/>
<line x1="1619.60" y1="411.70" x2="1635.60" y2="411.70" stroke="#000" stroke-width="4"/>
<line x1="1619.60" y1="252.90" x2="1635.60" y2="252.90" stroke="#000" stroke-width="4"/>
<text transform="translate(1574.60,748.30) scale(1,1.04)" font-size="53" text-anchor="middle">0</text>
<text transform="translate(1574.60,589.50) scale(1,1.04)" font-size="53" text-anchor="middle">1</text>
<text transform="translate(1574.60,430.70) scale(1,1.04)" font-size="53" text-anchor="middle">2</text>
<text transform="translate(1574.60,271.90) scale(1,1.04)" font-size="53" text-anchor="middle">3</text>
<line x1="1624.30" y1="649.90" x2="1635.60" y2="649.90" stroke="#000" stroke-width="4"/>
<line x1="1624.30" y1="491.10" x2="1635.60" y2="491.10" stroke="#000" stroke-width="4"/>
<line x1="1624.30" y1="332.30" x2="1635.60" y2="332.30" stroke="#000" stroke-width="4"/>
<line x1="1624.30" y1="173.50" x2="1635.60" y2="173.50" stroke="#000" stroke-width="4"/>
<line x1="1893.80" y1="729.30" x2="1893.80" y2="745.30" stroke="#000" stroke-width="4"/>
<line x1="2152.30" y1="729.30" x2="2152.30" y2="745.30" stroke="#000" stroke-width="4"/>
<line x1="2410.50" y1="729.30" x2="2410.50" y2="745.30" stroke="#000" stroke-width="4"/>
<text transform="translate(1764.00,810.30) scale(1,1.04)" font-size="54" text-anchor="middle" word-spacing="-1.00">24 h</text>
<text transform="translate(2022.00,810.30) scale(1,1.04)" font-size="54" text-anchor="middle" word-spacing="-1.00">48 h</text>
<text transform="translate(2280.60,810.30) scale(1,1.04)" font-size="54" text-anchor="middle" word-spacing="-1.00">72 h</text>
<text transform="translate(1521.00,454.80) rotate(-90) scale(1,1.04)" font-size="54" text-anchor="middle" word-spacing="-3.53">Normalized densitometry</text>
<path d="M1813.4,314.5 L1813.4,279.4 L2323.2,279.4 L2323.2,314.5" fill="none" stroke="#000" stroke-width="2"/>
<path d="M1813.4,351.8 L1813.4,323.6 L2060.5,323.6 L2060.5,351.8" fill="none" stroke="#000" stroke-width="2"/>
<path d="M2076.1,351.8 L2076.1,323.6 L2323.2,323.6 L2323.2,351.8" fill="none" stroke="#000" stroke-width="2"/>
<path d="M1971.9,528.8 L1971.9,509.3 L2065,509.3 L2065,528.8" fill="none" stroke="#000" stroke-width="2"/>
<path d="M2228,528.8 L2228,509.3 L2319,509.3 L2319,528.8" fill="none" stroke="#000" stroke-width="2"/>
<text transform="translate(2043.40,280.34) scale(1.3,1)" font-size="46" style="font-weight:normal" stroke="#000" stroke-width="0.7" letter-spacing="3.6">**</text>
<text transform="translate(1926.50,329.04) scale(1.3,1)" font-size="46" style="font-weight:normal" stroke="#000" stroke-width="0.7">*</text>
<text transform="translate(2184.60,327.04) scale(1.3,1)" font-size="46" style="font-weight:normal" stroke="#000" stroke-width="0.7">*</text>
<text transform="translate(1989.80,507.24) scale(1.3,1)" font-size="46" style="font-weight:normal" stroke="#000" stroke-width="0.7">*</text>
<text transform="translate(2228.50,507.24) scale(1.3,1)" font-size="46" style="font-weight:normal" stroke="#000" stroke-width="0.7" letter-spacing="3.6">**</text>
<text transform="translate(51.50,897.00) scale(1,1.04)" font-size="97">B</text>
<text transform="translate(649.00,944.50) scale(1,1.04)" font-size="54" text-anchor="middle" word-spacing="-3.53">Glc 25 mM</text>
<g clip-path="url(#cB)">
<path d="M268.5,1486.5 L283.5,1486.5 L292.5,1467.0 L300.0,1464.0 L318.0,1452.0 L339.0,1437.0 L360.0,1425.0 L390.0,1407.0 L420.0,1392.0 L450.0,1380.0 L463.5,1375.5 L472.5,1372.5 L477.0,1377.0 L481.5,1410.0 L486.0,1401.0 L501.0,1380.0 L519.0,1371.0 L540.0,1369.5 L564.0,1368.0 L585.0,1359.0 L615.0,1347.0 L645.0,1332.0 L675.0,1323.0 L699.9,1315.5 L730.0,1311.0 L760.0,1287.0 L790.0,1263.0 L820.0,1236.0 L850.0,1212.0 L880.0,1188.0 L910.0,1158.0 L940.0,1128.0 L970.0,1101.0 L1000.0,1074.0 L1015.0,1068.0 L1030.0,1059.0 L1045.0,1047.0" fill="none" stroke="#1f4e79" stroke-width="11" stroke-linejoin="round" stroke-linecap="butt"/>
<path d="M268.5,1486.5 L283.5,1486.5 L292.5,1467.0 L300.0,1464.0 L318.0,1452.0 L339.0,1437.0 L360.0,1425.0 L390.0,1407.0 L420.0,1392.0 L450.0,1380.0 L463.5,1375.5 L472.5,1372.5 L477.0,1377.0 L481.5,1410.0 L486.0,1404.0 L501.0,1392.0 L519.0,1384.5 L540.0,1383.0 L567.0,1383.0 L585.0,1375.5 L615.0,1365.0 L645.0,1353.0 L675.0,1344.0 L699.9,1333.5 L730.0,1326.0 L760.0,1311.0 L790.0,1284.0 L820.0,1251.0 L850.0,1224.0 L880.0,1197.0 L910.0,1161.0 L940.0,1128.0 L970.0,1098.0 L1000.0,1059.0 L1015.0,1053.0 L1030.0,1047.0 L1045.0,1033.5" fill="none" stroke="#2e75b6" stroke-width="11" stroke-linejoin="round" stroke-linecap="butt"/>
<path d="M268.5,1486.5 L283.5,1486.5 L292.5,1467.0 L300.0,1464.0 L318.0,1452.0 L339.0,1437.0 L360.0,1425.0 L390.0,1407.0 L420.0,1392.0 L450.0,1380.0 L463.5,1375.5 L472.5,1372.5 L477.0,1377.0 L481.5,1410.0 L486.0,1389.0 L501.0,1377.0 L519.0,1372.5 L540.0,1373.4 L564.0,1375.5 L585.0,1369.5 L615.0,1360.5 L645.0,1354.5 L675.0,1348.5 L699.9,1350.0 L739.0,1350.0 L766.0,1338.0 L790.0,1320.0 L820.0,1290.0 L850.0,1260.0 L880.0,1230.0 L910.0,1185.0 L940.0,1140.0 L970.0,1080.0 L1000.0,1038.0 L1015.0,1027.5 L1030.0,1014.0 L1045.0,999.0" fill="none" stroke="#9dc3e6" stroke-width="11" stroke-linejoin="round" stroke-linecap="butt"/>
<path d="M268.5,1486.5 L283.5,1486.5 L292.5,1467.0 L300.0,1464.0 L318.0,1452.0 L339.0,1437.0 L360.0,1425.0 L390.0,1407.0 L420.0,1392.0 L450.0,1380.0 L463.5,1375.5 L472.5,1372.5 L477.0,1377.0" fill="none" stroke="#a9cae9" stroke-width="13" stroke-linejoin="round" stroke-linecap="butt"/>
<path d="M268.5,1486.5 L283.5,1486.5 L292.5,1467.0 L300.0,1464.0 L318.0,1452.0 L339.0,1437.0 L360.0,1425.0 L390.0,1407.0 L420.0,1392.0 L450.0,1380.0 L463.5,1375.5 L472.5,1372.5 L477.0,1377.0 L481.5,1410.0 L484.5,1414.5 L501.0,1407.0 L525.0,1416.0 L564.0,1428.0 L594.0,1432.5 L624.0,1437.0 L660.0,1452.0 L699.9,1474.5 L730.0,1483.5 L760.0,1491.0 L790.0,1495.5 L835.0,1498.5 L880.0,1498.5 L940.0,1495.5 L1000.0,1494.0 L1045.0,1495.5" fill="none" stroke="#bdd7ee" stroke-width="11" stroke-linejoin="round" stroke-linecap="butt"/>
</g>
<rect x="269.00" y="974.00" width="776.00" height="570.40" fill="none" stroke="#000" stroke-width="4.6"/>
<line x1="252.50" y1="1544.40" x2="269.00" y2="1544.40" stroke="#000" stroke-width="4.6"/>
<text transform="translate(223.60,1563.10) scale(1,1.04)" font-size="53" text-anchor="end">-0.5</text>
<line x1="252.50" y1="1430.20" x2="269.00" y2="1430.20" stroke="#000" stroke-width="4.6"/>
<text transform="translate(223.60,1448.90) scale(1,1.04)" font-size="53" text-anchor="end">0.5</text>
<line x1="252.50" y1="1316.00" x2="269.00" y2="1316.00" stroke="#000" stroke-width="4.6"/>
<text transform="translate(223.60,1334.70) scale(1,1.04)" font-size="53" text-anchor="end">1.5</text>
<line x1="252.50" y1="1201.80" x2="269.00" y2="1201.80" stroke="#000" stroke-width="4.6"/>
<text transform="translate(223.60,1220.50) scale(1,1.04)" font-size="53" text-anchor="end">2.5</text>
<line x1="252.50" y1="1087.60" x2="269.00" y2="1087.60" stroke="#000" stroke-width="4.6"/>
<text transform="translate(223.60,1106.30) scale(1,1.04)" font-size="53" text-anchor="end">3.5</text>
<line x1="252.50" y1="973.40" x2="269.00" y2="973.40" stroke="#000" stroke-width="4.6"/>
<text transform="translate(223.60,992.10) scale(1,1.04)" font-size="53" text-anchor="end">4.5</text>
<line x1="269.00" y1="1544.40" x2="269.00" y2="1558.20" stroke="#000" stroke-width="4.6"/>
<line x1="322.15" y1="1544.40" x2="322.15" y2="1555.70" stroke="#000" stroke-width="4.6"/>
<line x1="375.30" y1="1544.40" x2="375.30" y2="1558.20" stroke="#000" stroke-width="4.6"/>
<line x1="428.45" y1="1544.40" x2="428.45" y2="1555.70" stroke="#000" stroke-width="4.6"/>
<line x1="481.60" y1="1544.40" x2="481.60" y2="1558.20" stroke="#000" stroke-width="4.6"/>
<line x1="534.75" y1="1544.40" x2="534.75" y2="1555.70" stroke="#000" stroke-width="4.6"/>
<line x1="587.90" y1="1544.40" x2="587.90" y2="1558.20" stroke="#000" stroke-width="4.6"/>
<line x1="641.05" y1="1544.40" x2="641.05" y2="1555.70" stroke="#000" stroke-width="4.6"/>
<line x1="694.20" y1="1544.40" x2="694.20" y2="1558.20" stroke="#000" stroke-width="4.6"/>
<line x1="747.35" y1="1544.40" x2="747.35" y2="1555.70" stroke="#000" stroke-width="4.6"/>
<line x1="800.50" y1="1544.40" x2="800.50" y2="1558.20" stroke="#000" stroke-width="4.6"/>
<line x1="853.65" y1="1544.40" x2="853.65" y2="1555.70" stroke="#000" stroke-width="4.6"/>
<line x1="906.80" y1="1544.40" x2="906.80" y2="1558.20" stroke="#000" stroke-width="4.6"/>
<line x1="959.95" y1="1544.40" x2="959.95" y2="1555.70" stroke="#000" stroke-width="4.6"/>
<line x1="1013.10" y1="1544.40" x2="1013.10" y2="1558.20" stroke="#000" stroke-width="4.6"/>
<text transform="translate(380.50,1616.40) scale(1,1.04)" font-size="53" text-anchor="middle">10</text>
<text transform="translate(488.40,1616.40) scale(1,1.04)" font-size="53" text-anchor="middle">20</text>
<text transform="translate(591.00,1616.40) scale(1,1.04)" font-size="53" text-anchor="middle">30</text>
<text transform="translate(700.40,1616.40) scale(1,1.04)" font-size="53" text-anchor="middle">40</text>
<text transform="translate(805.80,1616.40) scale(1,1.04)" font-size="53" text-anchor="middle">50</text>
<text transform="translate(912.70,1616.40) scale(1,1.04)" font-size="53" text-anchor="middle">60</text>
<text transform="translate(1019.20,1616.40) scale(1,1.04)" font-size="53" text-anchor="middle">70</text>
<text transform="translate(478.40,1689.60) scale(1,1.04)" font-size="54" letter-spacing="0.25" word-spacing="0.01">Time (hours)</text>
<text transform="translate(100.80,1279.00) rotate(-90) scale(1,1.04)" font-size="54" text-anchor="middle" word-spacing="-3.53">Normalized Cell Index</text>
<text transform="translate(295.00,1038.80) scale(1,1.04)" font-size="54">3AB-OS</text>
<line x1="476.40" y1="1202.40" x2="476.40" y2="1336.00" stroke="#000" stroke-width="6"/>
<path d="M461.4,1328 L491.4,1328 L476.4,1356 Z" fill="#000"/>
<text transform="translate(1071.00,1111.20) scale(1,1.04)" font-size="54" word-spacing="-3.53">Baf. [nM]</text>
<line x1="1077.90" y1="1195.00" x2="1154.40" y2="1195.00" stroke="#1f4e79" stroke-width="13.8"/>
<text transform="translate(1185.50,1216.00) scale(1,1.04)" font-size="53">0</text>
<line x1="1077.90" y1="1274.10" x2="1154.40" y2="1274.10" stroke="#2e75b6" stroke-width="13.8"/>
<text transform="translate(1185.50,1294.20) scale(1,1.04)" font-size="53">1</text>
<line x1="1077.90" y1="1353.30" x2="1154.40" y2="1353.30" stroke="#9dc3e6" stroke-width="13.8"/>
<text transform="translate(1185.50,1368.60) scale(1,1.04)" font-size="53">2</text>
<line x1="1077.90" y1="1432.40" x2="1154.40" y2="1432.40" stroke="#bdd7ee" stroke-width="13.8"/>
<text transform="translate(1185.50,1445.40) scale(1,1.04)" font-size="53">5</text>
<path d="M1680.30,1465.20 L1680.30,1078.70 L1775.60,1078.70 L1775.60,1465.20" fill="#1f4e79" stroke="#000" stroke-width="4.2" stroke-linejoin="miter"/>
<path d="M1873.20,1465.20 L1873.20,1070.31 L1968.70,1070.31 L1968.70,1465.20" fill="#2e75b6" stroke="#000" stroke-width="4.2" stroke-linejoin="miter"/>
<path d="M2065.70,1465.20 L2065.70,1078.70 L2163.50,1078.70 L2163.50,1465.20" fill="#9dc3e6" stroke="#000" stroke-width="4.2" stroke-linejoin="miter"/>
<path d="M2258.90,1465.20 L2258.90,1471.67 L2356.80,1471.67 L2356.80,1465.20" fill="#bdd7ee" stroke="#000" stroke-width="4.2" stroke-linejoin="miter"/>
<line x1="1730.40" y1="1015.36" x2="1730.40" y2="1078.60" stroke="#595959" stroke-width="3.8"/>
<line x1="1719.40" y1="1015.36" x2="1741.40" y2="1015.36" stroke="#595959" stroke-width="3.8"/>
<line x1="1921.80" y1="992.55" x2="1921.80" y2="1070.87" stroke="#595959" stroke-width="3.8"/>
<line x1="1910.80" y1="992.55" x2="1932.80" y2="992.55" stroke="#595959" stroke-width="3.8"/>
<line x1="2115.20" y1="1039.33" x2="2115.20" y2="1078.60" stroke="#595959" stroke-width="3.8"/>
<line x1="2104.20" y1="1039.33" x2="2126.20" y2="1039.33" stroke="#595959" stroke-width="3.8"/>
<line x1="1630.70" y1="983.50" x2="1630.70" y2="1543.50" stroke="#000" stroke-width="4"/>
<line x1="1614.70" y1="1465.20" x2="2407.50" y2="1465.20" stroke="#000" stroke-width="4"/>
<line x1="1614.70" y1="1542.52" x2="1630.70" y2="1542.52" stroke="#000" stroke-width="4"/>
<text transform="translate(1584.30,1561.52) scale(1,1.04)" font-size="53" text-anchor="end">-0.2</text>
<text transform="translate(1584.30,1484.20) scale(1,1.04)" font-size="53" text-anchor="end">0.0</text>
<line x1="1614.70" y1="1387.88" x2="1630.70" y2="1387.88" stroke="#000" stroke-width="4"/>
<text transform="translate(1584.30,1406.88) scale(1,1.04)" font-size="53" text-anchor="end">0.2</text>
<line x1="1614.70" y1="1310.56" x2="1630.70" y2="1310.56" stroke="#000" stroke-width="4"/>
<text transform="translate(1584.30,1329.56) scale(1,1.04)" font-size="53" text-anchor="end">0.4</text>
<line x1="1614.70" y1="1233.24" x2="1630.70" y2="1233.24" stroke="#000" stroke-width="4"/>
<text transform="translate(1584.30,1252.24) scale(1,1.04)" font-size="53" text-anchor="end">0.6</text>
<line x1="1614.70" y1="1155.92" x2="1630.70" y2="1155.92" stroke="#000" stroke-width="4"/>
<text transform="translate(1584.30,1174.92) scale(1,1.04)" font-size="53" text-anchor="end">0.8</text>
<line x1="1614.70" y1="1078.60" x2="1630.70" y2="1078.60" stroke="#000" stroke-width="4"/>
<text transform="translate(1584.30,1097.60) scale(1,1.04)" font-size="53" text-anchor="end">1.0</text>
<line x1="1614.70" y1="1001.28" x2="1630.70" y2="1001.28" stroke="#000" stroke-width="4"/>
<text transform="translate(1584.30,1020.28) scale(1,1.04)" font-size="53" text-anchor="end">1.2</text>
<line x1="1823.50" y1="1465.20" x2="1823.50" y2="1488.70" stroke="#000" stroke-width="4"/>
<line x1="2017.00" y1="1465.20" x2="2017.00" y2="1488.70" stroke="#000" stroke-width="4"/>
<line x1="2210.30" y1="1465.20" x2="2210.30" y2="1488.70" stroke="#000" stroke-width="4"/>
<line x1="2405.40" y1="1465.20" x2="2405.40" y2="1488.70" stroke="#000" stroke-width="4"/>
<text transform="translate(1727.50,1615.60) scale(1,1.04)" font-size="53" text-anchor="middle">0</text>
<text transform="translate(1920.00,1615.60) scale(1,1.04)" font-size="53" text-anchor="middle">1</text>
<text transform="translate(2111.50,1615.60) scale(1,1.04)" font-size="53" text-anchor="middle">2</text>
<text transform="translate(2302.30,1615.60) scale(1,1.04)" font-size="53" text-anchor="middle">5</text>
<text transform="translate(2017.60,1690.00) scale(1,1.04)" font-size="54" text-anchor="middle" word-spacing="0.01">Bafilomycin A1 [nM]</text>
<text transform="translate(1475.20,1264.00) rotate(-90) scale(1,1.04)" font-size="53.5" text-anchor="middle" word-spacing="-3.57">Normalized Cell Index</text>
<text transform="translate(1924.60,971.30) scale(1,1.04)" font-size="53" text-anchor="middle">ns</text>
<text transform="translate(2115.70,1013.00) scale(1,1.04)" font-size="53" text-anchor="middle">ns</text>
<text transform="translate(2283.30,1458.30) scale(1,1.08)" font-size="47" letter-spacing="2.3">***</text>
<line x1="2296.00" y1="1469.50" x2="2319.60" y2="1469.50" stroke="#595959" stroke-width="4.5"/>
<text transform="translate(50.00,1830.50) scale(0.975,1.04)" font-size="97">C</text>
<text transform="translate(643.00,1870.60) scale(1,1.04)" font-size="54" text-anchor="middle" word-spacing="-3.53">Glc 1 mM</text>
<g clip-path="url(#cC)">
<path d="M265.8,2459.6 L280.4,2459.6 L287.7,2432.9 L297.4,2425.5 L321.8,2403.6 L346.1,2376.8 L370.5,2352.5 L394.8,2330.6 L419.2,2311.1 L443.5,2294.0 L467.9,2277.5 L473.3,2279.5 L480.1,2347.6 L484.5,2337.0 L495.0,2322.0 L510.0,2304.0 L525.0,2292.0 L555.0,2283.0 L585.0,2259.0 L615.0,2229.0 L645.0,2202.0 L675.0,2172.0 L699.9,2145.0 L730.0,2118.0 L760.0,2088.0 L778.0,2070.0 L799.0,2037.0 L820.0,2007.0 L850.0,1989.0 L877.0,1980.0 L895.0,1986.0 L922.0,1998.0 L940.0,2013.0 L970.0,2037.0 L1000.0,2070.0 L1012.0,2088.0 L1036.0,2101.5" fill="none" stroke="#1f4e79" stroke-width="10.5" stroke-linejoin="round" stroke-linecap="butt"/>
<path d="M265.8,2459.6 L280.4,2459.6 L287.7,2432.9 L297.4,2425.5 L321.8,2403.6 L346.1,2376.8 L370.5,2352.5 L394.8,2330.6 L419.2,2311.1 L443.5,2294.0 L467.9,2277.5 L473.3,2279.5 L480.1,2347.6 L484.5,2338.5 L495.0,2326.5 L510.0,2310.0 L525.0,2301.0 L555.0,2292.0 L585.0,2268.0 L615.0,2238.0 L645.0,2211.0 L675.0,2184.0 L699.9,2163.0 L730.0,2139.0 L760.0,2124.0 L790.0,2094.0 L820.0,2067.0 L850.0,2052.0 L862.0,2043.0 L880.0,2046.0 L910.0,2059.5 L925.0,2062.5 L955.0,2082.0 L985.0,2109.0 L1003.0,2118.0 L1015.0,2136.0 L1036.0,2143.5" fill="none" stroke="#2e75b6" stroke-width="10.5" stroke-linejoin="round" stroke-linecap="butt"/>
<path d="M265.8,2459.6 L280.4,2459.6 L287.7,2432.9 L297.4,2425.5 L321.8,2403.6 L346.1,2376.8 L370.5,2352.5 L394.8,2330.6 L419.2,2311.1 L443.5,2294.0 L467.9,2277.5 L473.3,2279.5 L480.1,2347.6 L484.5,2340.0 L501.0,2325.0 L525.0,2317.5 L555.0,2314.5 L576.0,2313.0 L600.0,2298.0 L630.0,2283.0 L660.0,2265.0 L699.9,2241.0 L715.0,2233.5 L736.0,2229.0 L760.0,2214.0 L790.0,2190.0 L820.0,2160.0 L850.0,2133.0 L868.0,2125.5 L890.5,2119.5 L910.0,2124.0 L940.0,2130.0 L970.0,2148.0 L997.0,2154.0 L1012.0,2166.0 L1036.0,2175.0" fill="none" stroke="#9dc3e6" stroke-width="10.5" stroke-linejoin="round" stroke-linecap="butt"/>
<path d="M265.8,2459.6 L280.4,2459.6 L287.7,2432.9 L297.4,2425.5 L321.8,2403.6 L346.1,2376.8 L370.5,2352.5 L394.8,2330.6 L419.2,2311.1 L443.5,2294.0 L467.9,2277.5 L473.3,2279.5" fill="none" stroke="#a9cae9" stroke-width="12" stroke-linejoin="round" stroke-linecap="butt"/>
<path d="M265.8,2459.6 L280.4,2459.6 L287.7,2432.9 L297.4,2425.5 L321.8,2403.6 L346.1,2376.8 L370.5,2352.5 L394.8,2330.6 L419.2,2311.1 L443.5,2294.0 L467.9,2277.5 L473.3,2279.5 L480.1,2347.6 L484.5,2343.0" fill="none" stroke="#bdd7ee" stroke-width="10.5" stroke-linejoin="round" stroke-linecap="butt"/>
<path d="M480.1,2347.6 L484.5,2343.0 L504.0,2328.0 L540.0,2340.0 L560.0,2340.6 L587.6,2348.7 L600.6,2346.3 L624.9,2350.3 L663.0,2367.0 L701.2,2384.4 L732.1,2390.9 L775.9,2384.4 L790.0,2380.5 L820.0,2373.0 L850.0,2367.0 L880.0,2361.0 L925.0,2362.5 L955.0,2365.5 L985.0,2373.0 L1036.0,2383.5" fill="none" stroke="#bdd7ee" stroke-width="9.2" stroke-linejoin="round" stroke-linecap="butt"/>
</g>
<rect x="266.30" y="1905.40" width="769.70" height="555.40" fill="none" stroke="#000" stroke-width="4.6"/>
<line x1="249.80" y1="2460.80" x2="266.30" y2="2460.80" stroke="#000" stroke-width="4.6"/>
<text transform="translate(219.50,2479.80) scale(1,1.04)" font-size="53" text-anchor="end">0.0</text>
<line x1="249.80" y1="2370.80" x2="266.30" y2="2370.80" stroke="#000" stroke-width="4.6"/>
<text transform="translate(219.50,2389.80) scale(1,1.04)" font-size="53" text-anchor="end">0.5</text>
<line x1="249.80" y1="2280.80" x2="266.30" y2="2280.80" stroke="#000" stroke-width="4.6"/>
<text transform="translate(219.50,2299.80) scale(1,1.04)" font-size="53" text-anchor="end">1.0</text>
<line x1="249.80" y1="2190.80" x2="266.30" y2="2190.80" stroke="#000" stroke-width="4.6"/>
<text transform="translate(219.50,2209.80) scale(1,1.04)" font-size="53" text-anchor="end">1.5</text>
<line x1="249.80" y1="2100.80" x2="266.30" y2="2100.80" stroke="#000" stroke-width="4.6"/>
<text transform="translate(219.50,2119.80) scale(1,1.04)" font-size="53" text-anchor="end">2.0</text>
<line x1="249.80" y1="2010.80" x2="266.30" y2="2010.80" stroke="#000" stroke-width="4.6"/>
<text transform="translate(219.50,2029.80) scale(1,1.04)" font-size="53" text-anchor="end">2.5</text>
<line x1="249.80" y1="1920.80" x2="266.30" y2="1920.80" stroke="#000" stroke-width="4.6"/>
<text transform="translate(219.50,1939.80) scale(1,1.04)" font-size="53" text-anchor="end">3.0</text>
<line x1="266.30" y1="2460.80" x2="266.30" y2="2475.10" stroke="#000" stroke-width="4.6"/>
<line x1="319.30" y1="2460.80" x2="319.30" y2="2470.30" stroke="#000" stroke-width="4.6"/>
<line x1="372.30" y1="2460.80" x2="372.30" y2="2475.10" stroke="#000" stroke-width="4.6"/>
<line x1="425.30" y1="2460.80" x2="425.30" y2="2470.30" stroke="#000" stroke-width="4.6"/>
<line x1="478.30" y1="2460.80" x2="478.30" y2="2475.10" stroke="#000" stroke-width="4.6"/>
<line x1="531.30" y1="2460.80" x2="531.30" y2="2470.30" stroke="#000" stroke-width="4.6"/>
<line x1="584.30" y1="2460.80" x2="584.30" y2="2475.10" stroke="#000" stroke-width="4.6"/>
<line x1="637.30" y1="2460.80" x2="637.30" y2="2470.30" stroke="#000" stroke-width="4.6"/>
<line x1="690.30" y1="2460.80" x2="690.30" y2="2475.10" stroke="#000" stroke-width="4.6"/>
<line x1="743.30" y1="2460.80" x2="743.30" y2="2470.30" stroke="#000" stroke-width="4.6"/>
<line x1="796.30" y1="2460.80" x2="796.30" y2="2475.10" stroke="#000" stroke-width="4.6"/>
<line x1="849.30" y1="2460.80" x2="849.30" y2="2470.30" stroke="#000" stroke-width="4.6"/>
<line x1="902.30" y1="2460.80" x2="902.30" y2="2475.10" stroke="#000" stroke-width="4.6"/>
<line x1="955.30" y1="2460.80" x2="955.30" y2="2470.30" stroke="#000" stroke-width="4.6"/>
<line x1="1008.30" y1="2460.80" x2="1008.30" y2="2475.10" stroke="#000" stroke-width="4.6"/>
<text transform="translate(372.70,2530.00) scale(1,1.04)" font-size="53" text-anchor="middle">10</text>
<text transform="translate(479.50,2530.00) scale(1,1.04)" font-size="53" text-anchor="middle">20</text>
<text transform="translate(585.30,2530.00) scale(1,1.04)" font-size="53" text-anchor="middle">30</text>
<text transform="translate(692.00,2530.00) scale(1,1.04)" font-size="53" text-anchor="middle">40</text>
<text transform="translate(798.00,2530.00) scale(1,1.04)" font-size="53" text-anchor="middle">50</text>
<text transform="translate(904.00,2530.00) scale(1,1.04)" font-size="53" text-anchor="middle">60</text>
<text transform="translate(1010.00,2530.00) scale(1,1.04)" font-size="53" text-anchor="middle">70</text>
<text transform="translate(475.10,2608.80) scale(1,1.04)" font-size="54" letter-spacing="0.25" word-spacing="0.01">Time (hours)</text>
<text transform="translate(111.00,2187.50) rotate(-90) scale(1,1.04)" font-size="54" text-anchor="middle" word-spacing="-3.53">Normalized Cell Index</text>
<text transform="translate(281.50,1965.40) scale(1,1.04)" font-size="54">3AB-OS</text>
<line x1="478.60" y1="2108.00" x2="478.60" y2="2240.40" stroke="#000" stroke-width="6"/>
<path d="M463.6,2232.4 L493.6,2232.4 L478.6,2260.4 Z" fill="#000"/>
<text transform="translate(1058.50,2031.70) scale(1,1.04)" font-size="54" word-spacing="-3.53">Baf. [nM]</text>
<line x1="1066.00" y1="2116.90" x2="1143.40" y2="2116.90" stroke="#1f4e79" stroke-width="13.8"/>
<text transform="translate(1172.00,2135.00) scale(1,1.04)" font-size="53">0</text>
<line x1="1066.00" y1="2195.80" x2="1143.40" y2="2195.80" stroke="#2e75b6" stroke-width="13.8"/>
<text transform="translate(1172.00,2214.10) scale(1,1.04)" font-size="53">1</text>
<line x1="1066.00" y1="2274.70" x2="1143.40" y2="2274.70" stroke="#9dc3e6" stroke-width="13.8"/>
<text transform="translate(1172.00,2289.50) scale(1,1.04)" font-size="53">2</text>
<line x1="1066.00" y1="2354.20" x2="1143.40" y2="2354.20" stroke="#bdd7ee" stroke-width="13.8"/>
<text transform="translate(1172.00,2365.40) scale(1,1.04)" font-size="53">5</text>
<path d="M1685.40,2385.30 L1685.40,2002.40 L1779.90,2002.40 L1779.90,2385.30" fill="#1f4e79" stroke="#000" stroke-width="4.2" stroke-linejoin="miter"/>
<path d="M1877.30,2385.30 L1877.30,2060.69 L1973.30,2060.69 L1973.30,2385.30" fill="#2e75b6" stroke="#000" stroke-width="4.2" stroke-linejoin="miter"/>
<path d="M2068.10,2385.30 L2068.10,2190.91 L2166.20,2190.91 L2166.20,2385.30" fill="#9dc3e6" stroke="#000" stroke-width="4.2" stroke-linejoin="miter"/>
<path d="M2261.60,2385.30 L2261.60,2412.51 L2358.90,2412.51 L2358.90,2385.30" fill="#bdd7ee" stroke="#000" stroke-width="4.2" stroke-linejoin="miter"/>
<line x1="1636.30" y1="1908.50" x2="1636.30" y2="2463.50" stroke="#000" stroke-width="4"/>
<line x1="1620.30" y1="2385.30" x2="2408.00" y2="2385.30" stroke="#000" stroke-width="4"/>
<line x1="1620.30" y1="2461.90" x2="1636.30" y2="2461.90" stroke="#000" stroke-width="4"/>
<text transform="translate(1588.50,2480.90) scale(1,1.04)" font-size="53" text-anchor="end">-0.2</text>
<text transform="translate(1588.50,2404.30) scale(1,1.04)" font-size="53" text-anchor="end">0.0</text>
<line x1="1620.30" y1="2308.70" x2="1636.30" y2="2308.70" stroke="#000" stroke-width="4"/>
<text transform="translate(1588.50,2327.70) scale(1,1.04)" font-size="53" text-anchor="end">0.2</text>
<line x1="1620.30" y1="2232.10" x2="1636.30" y2="2232.10" stroke="#000" stroke-width="4"/>
<text transform="translate(1588.50,2251.10) scale(1,1.04)" font-size="53" text-anchor="end">0.4</text>
<line x1="1620.30" y1="2155.50" x2="1636.30" y2="2155.50" stroke="#000" stroke-width="4"/>
<text transform="translate(1588.50,2174.50) scale(1,1.04)" font-size="53" text-anchor="end">0.6</text>
<line x1="1620.30" y1="2078.90" x2="1636.30" y2="2078.90" stroke="#000" stroke-width="4"/>
<text transform="translate(1588.50,2097.90) scale(1,1.04)" font-size="53" text-anchor="end">0.8</text>
<line x1="1620.30" y1="2002.30" x2="1636.30" y2="2002.30" stroke="#000" stroke-width="4"/>
<text transform="translate(1588.50,2021.30) scale(1,1.04)" font-size="53" text-anchor="end">1.0</text>
<line x1="1620.30" y1="1925.70" x2="1636.30" y2="1925.70" stroke="#000" stroke-width="4"/>
<text transform="translate(1588.50,1944.70) scale(1,1.04)" font-size="53" text-anchor="end">1.2</text>
<line x1="1828.50" y1="2385.30" x2="1828.50" y2="2408.80" stroke="#000" stroke-width="4"/>
<line x1="2021.40" y1="2385.30" x2="2021.40" y2="2408.80" stroke="#000" stroke-width="4"/>
<line x1="2214.20" y1="2385.30" x2="2214.20" y2="2408.80" stroke="#000" stroke-width="4"/>
<line x1="2406.00" y1="2385.30" x2="2406.00" y2="2408.80" stroke="#000" stroke-width="4"/>
<text transform="translate(1731.00,2528.00) scale(1,1.04)" font-size="53" text-anchor="middle">0</text>
<text transform="translate(1925.00,2528.00) scale(1,1.04)" font-size="53" text-anchor="middle">1</text>
<text transform="translate(2117.00,2528.00) scale(1,1.04)" font-size="53" text-anchor="middle">2</text>
<text transform="translate(2308.50,2528.00) scale(1,1.04)" font-size="53" text-anchor="middle">5</text>
<text transform="translate(2021.80,2604.30) scale(1,1.04)" font-size="54" text-anchor="middle" word-spacing="0.01">Bafilomycin A1 [nM]</text>
<text transform="translate(1475.70,2186.50) rotate(-90) scale(1,1.04)" font-size="53.5" text-anchor="middle" word-spacing="-3.57">Normalized Cell Index</text>
<line x1="1732.10" y1="1985.40" x2="1732.10" y2="2016.60" stroke="#595959" stroke-width="4.4"/>
<line x1="1720.60" y1="1985.40" x2="1743.60" y2="1985.40" stroke="#595959" stroke-width="4.4"/>
<line x1="1720.60" y1="2016.60" x2="1743.60" y2="2016.60" stroke="#595959" stroke-width="4.4"/>
<line x1="1925.40" y1="2053.50" x2="1925.40" y2="2065.20" stroke="#595959" stroke-width="4.4"/>
<line x1="1913.90" y1="2053.50" x2="1936.90" y2="2053.50" stroke="#595959" stroke-width="4.4"/>
<line x1="1913.90" y1="2065.20" x2="1936.90" y2="2065.20" stroke="#595959" stroke-width="4.4"/>
<line x1="2117.20" y1="2165.70" x2="2117.20" y2="2214.20" stroke="#595959" stroke-width="4.4"/>
<line x1="2105.70" y1="2165.70" x2="2128.70" y2="2165.70" stroke="#595959" stroke-width="4.4"/>
<line x1="2105.70" y1="2214.20" x2="2128.70" y2="2214.20" stroke="#595959" stroke-width="4.4"/>
<line x1="2310.10" y1="2393.40" x2="2310.10" y2="2432.40" stroke="#595959" stroke-width="4.4"/>
<line x1="2298.60" y1="2393.40" x2="2321.60" y2="2393.40" stroke="#595959" stroke-width="4.4"/>
<line x1="2298.60" y1="2432.40" x2="2321.60" y2="2432.40" stroke="#595959" stroke-width="4.4"/>
<text transform="translate(1918.40,2036.00) scale(1,1.08)" font-size="47">*</text>
<text transform="translate(2091.00,2147.00) scale(1,1.08)" font-size="47" letter-spacing="2.3">**</text>
<text transform="translate(2276.00,2366.00) scale(1,1.08)" font-size="47" letter-spacing="2.3">***</text>
</svg>
</body></html>
